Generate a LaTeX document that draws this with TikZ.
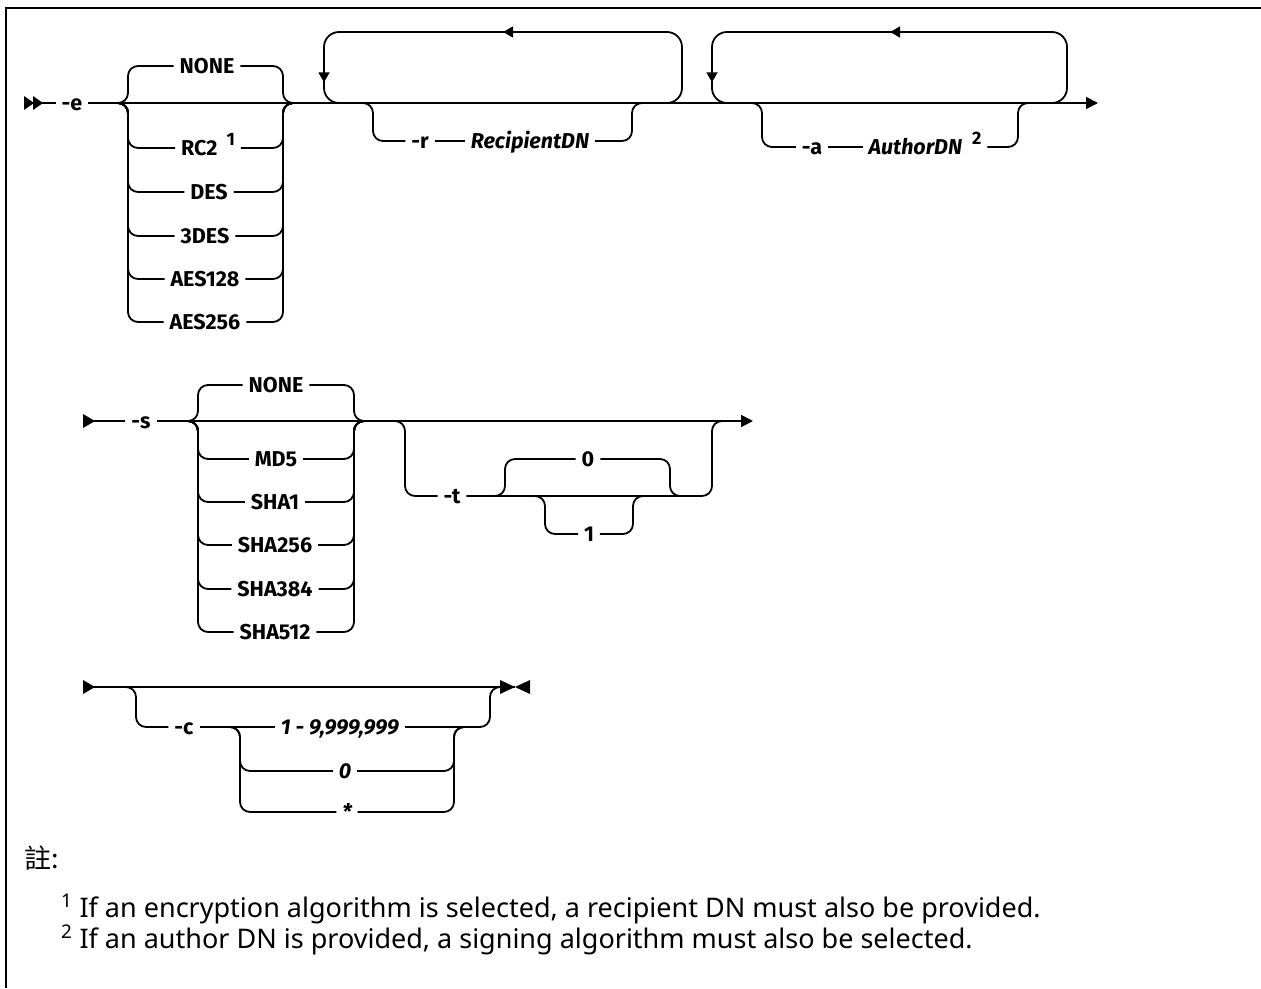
\documentclass[tikz,border=0pt]{standalone}
\usepackage{fontspec}
\setmainfont{Noto Sans}
\newfontfamily\diagface{Fira Sans}
\newfontfamily\cjkfont{Noto Sans CJK TC}
\usetikzlibrary{arrows.meta,decorations.markings}
\newcommand\diagfont{\diagface\fontsize{21.5}{25}\selectfont\bfseries}
\newcommand\notefont{\fontsize{27}{31}\selectfont}
\tikzset{
  rail/.style={line width=1.8pt, rounded corners=10pt},
  loopline/.style={line width=1.8pt, rounded corners=15pt},
  lbl/.style={font=\diagfont, inner sep=0pt, outer sep=6pt, text height=14.8pt, text depth=0pt},
  ilbl/.style={lbl, font=\diagfont\itshape},
  endtip/.style={-{Triangle[length=12pt,width=12pt]}},
  notetext/.style={font=\notefont, inner sep=0pt, anchor=base west}
}
\begin{document}
\begin{tikzpicture}[x=1pt,y=-1pt]
\useasboundingbox (0,0) rectangle (1261,988);
% frame
\draw[line width=2.5pt] (6,988) -- (6,8) -- (1261,8);

% ================= section 1 =================
\coordinate (s1) at (24,103);
\coordinate (end1) at (1098,103);
\fill ([yshift=7pt]s1) -- ([xshift=10pt]s1) -- ([yshift=-7pt]s1) -- cycle;
\fill ([xshift=9pt,yshift=7pt]s1) -- ([xshift=19pt]s1) -- ([xshift=9pt,yshift=-7pt]s1) -- cycle;
\node[lbl] (e1) at (72,103) {-e};
\draw[rail] (s1) -- (e1.west);
\draw[rail,endtip] (e1.east) -- (end1);

% choice block
\coordinate (c1L) at (118,103);
\coordinate (c1R) at (293,103);
\node[lbl] (n1) at (207,66) {NONE};
\node[lbl] (rc2) at (208,148) {RC2\hspace{9pt}\raisebox{10pt}{\fontsize{18}{18}\selectfont 1}};
\node[lbl] (des) at (209,192) {DES};
\node[lbl] (d3) at (205,236) {3DES};
\node[lbl] (a128) at (205,279) {AES128};
\node[lbl] (a256) at (205,322) {AES256};
\foreach \n in {n1,rc2,des,d3,a128,a256}{
  \draw[rail] (c1L) -- ++(10,0) |- (\n.west);
  \draw[rail] (\n.east) -| ([xshift=-10pt]c1R) -- (c1R);
}

% repeat loop 1
\coordinate (l1bl) at (324,103);
\coordinate (l1tl) at (324,32);
\coordinate (l1tr) at (682,32);
\coordinate (l1br) at (682,103);
\draw[loopline, postaction={decorate}, decoration={markings,
   mark=at position 257pt with {\arrow{Triangle[length=10pt,width=11pt]}},
   mark=at position 480pt with {\arrow{Triangle[length=10pt,width=11pt]}}}]
  ([xshift=-20pt]l1br) -- (l1br) -- (l1tr) -- (l1tl) -- (l1bl) -- ([xshift=20pt]l1bl);
% optional -r
\coordinate (oRL) at (363,103);
\coordinate (oRR) at (642,103);
\node[lbl] (r) at (420,141) {-r};
\node[ilbl] (rdn) at (530,141) {RecipientDN};
\draw[rail] (oRL) -- ++(10,0) |- (r.west);
\draw[rail] (r.east) -- (rdn.west);
\draw[rail] (rdn.east) -| ([xshift=-10pt]oRR) -- (oRR);

% repeat loop 2
\coordinate (l2bl) at (712,103);
\coordinate (l2tl) at (712,32);
\coordinate (l2tr) at (1067,32);
\coordinate (l2br) at (1067,103);
\draw[loopline, postaction={decorate}, decoration={markings,
   mark=at position 255pt with {\arrow{Triangle[length=10pt,width=11pt]}},
   mark=at position 477pt with {\arrow{Triangle[length=10pt,width=11pt]}}}]
  ([xshift=-20pt]l2br) -- (l2br) -- (l2tr) -- (l2tl) -- (l2bl) -- ([xshift=20pt]l2bl);
% optional -a
\coordinate (oAL) at (752,103);
\coordinate (oAR) at (1028,103);
\node[lbl] (a) at (812,147) {-a};
\node[ilbl] (adn) at (925,147) {AuthorDN\hspace{10pt}\raisebox{10pt}{\fontsize{18}{18}\selectfont\upshape 2}};
\draw[rail] (oAL) -- ++(10,0) |- (a.west);
\draw[rail] (a.east) -- (adn.west);
\draw[rail] (adn.east) -| ([xshift=-10pt]oAR) -- (oAR);

% ================= section 2 =================
\coordinate (s2) at (83,421);
\coordinate (end2) at (753,421);
\fill ([yshift=7pt]s2) -- ([xshift=12pt]s2) -- ([yshift=-7pt]s2) -- cycle;
\node[lbl] (sn) at (141,421) {-s};
\draw[rail] (s2) -- (sn.west);
\draw[rail,endtip] (sn.east) -- (end2);

\coordinate (c2L) at (188,421);
\coordinate (c2R) at (364,421);
\node[lbl] (n2) at (276,385) {NONE};
\node[lbl] (md5) at (276,459) {MD5};
\node[lbl] (sha1) at (275,502) {SHA1};
\node[lbl] (sha256) at (275,545) {SHA256};
\node[lbl] (sha384) at (275,589) {SHA384};
\node[lbl] (sha512) at (275,632) {SHA512};
\foreach \n in {n2,md5,sha1,sha256,sha384,sha512}{
  \draw[rail] (c2L) -- ++(10,0) |- (\n.west);
  \draw[rail] (\n.east) -| ([xshift=-10pt]c2R) -- (c2R);
}

% optional -t
\coordinate (oTL) at (395,421);
\coordinate (oTR) at (722,421);
\coordinate (t0L) at (495,496);
\coordinate (t0R) at (680,496);
\coordinate (t1L) at (535,496);
\coordinate (t1R) at (643,496);
\node[lbl] (tn) at (452,496) {-t};
\node[lbl] (zero) at (588,459) {0};
\node[lbl] (one) at (589,534) {1};
\draw[rail] (oTL) -- ++(10,0) |- (tn.west);
\draw[rail] (tn.east) -- (t0R) -| ([xshift=-10pt]oTR) -- (oTR);
\draw[rail] (t0L) -- ++(10,0) |- (zero.west);
\draw[rail] (zero.east) -| ([xshift=-10pt]t0R) -- (t0R);
\draw[rail] (t1L) -- ++(10,0) |- (one.west);
\draw[rail] (one.east) -| ([xshift=-10pt]t1R) -- (t1R);

% ================= section 3 =================
\coordinate (s3) at (83,687);
\coordinate (e3) at (515,687);
\fill ([yshift=7pt]s3) -- ([xshift=12pt]s3) -- ([yshift=-7pt]s3) -- cycle;
\fill ([xshift=-15pt,yshift=7pt]e3) -- (e3) -- ([xshift=-15pt,yshift=-7pt]e3) -- cycle;
\fill ([xshift=15pt,yshift=7pt]e3) -- (e3) -- ([xshift=15pt,yshift=-7pt]e3) -- cycle;
\draw[rail] (s3) -- (e3);

\coordinate (oCL) at (126,687);
\coordinate (oCR) at (500,687);
\coordinate (cvL) at (230,727);
\coordinate (cvR) at (464,727);
\node[lbl] (cn) at (184,727) {-c};
\node[ilbl] (crange) at (340,727) {1 - 9,999,999};
\node[ilbl] (czero) at (345,771) {0};
\node[ilbl] (cstar) at (347,812) {*};
\draw[rail] (oCL) -- ++(10,0) |- (cn.west);
\draw[rail] (cn.east) -- (crange.west);
\draw[rail] (crange.east) -- (cvR) -| ([xshift=-10pt]oCR) -- (oCR);
\foreach \n in {czero,cstar}{
  \draw[rail] (cvL) -- ++(10,0) |- (\n.west);
  \draw[rail] (\n.east) -| ([xshift=-10pt]cvR) -- (cvR);
}

% ================= notes =================
\node[notetext] (notehead) at (24,868) {\cjkfont 註:};
\node[notetext] (note1) at (61,917) {\textsuperscript{1} If an encryption algorithm is selected, a recipient DN must also be provided.};
\node[notetext] (note2) at (61,948) {\textsuperscript{2} If an author DN is provided, a signing algorithm must also be selected.};
\end{tikzpicture}
\end{document}
